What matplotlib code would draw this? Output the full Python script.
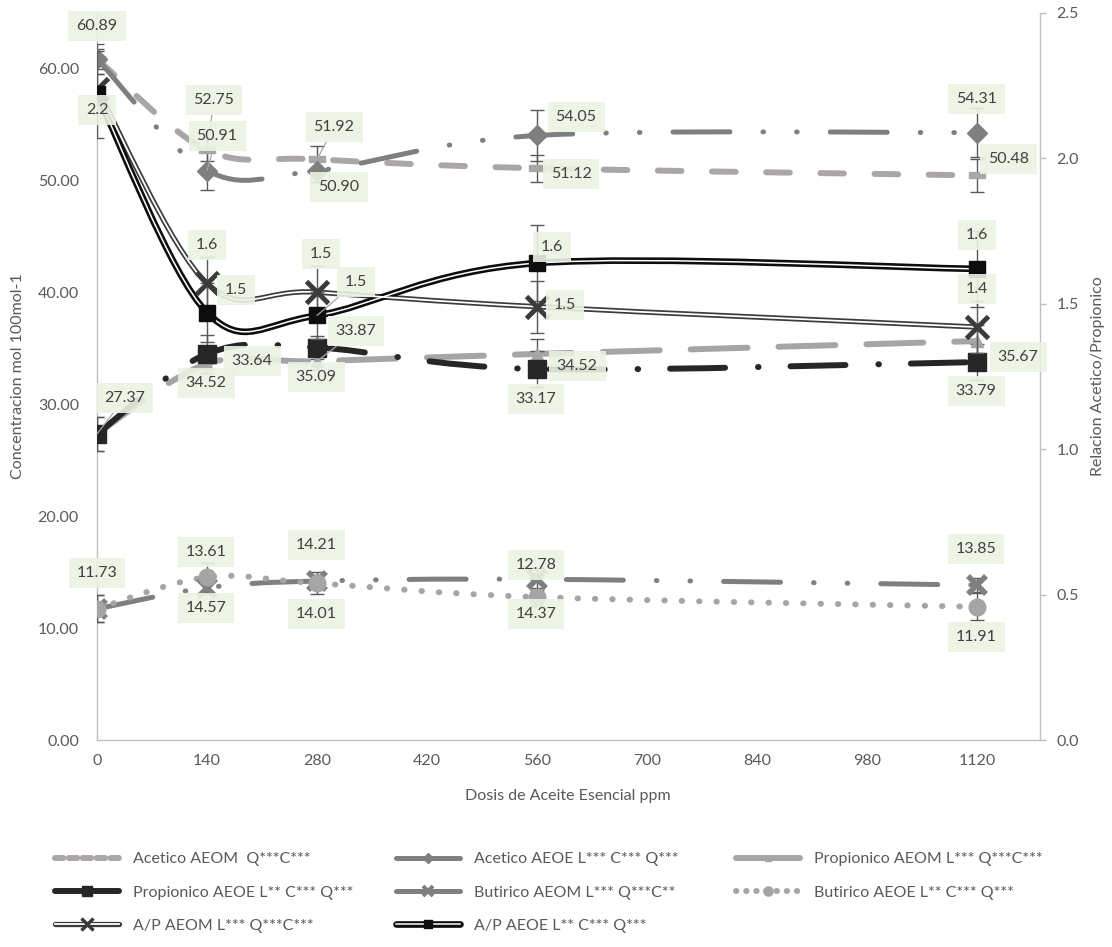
import numpy as np
import matplotlib
matplotlib.use("Agg")
import matplotlib.pyplot as plt
from matplotlib.path import Path
from matplotlib.patches import PathPatch
from matplotlib.lines import Line2D

plt.rcParams["font.family"] = ["Lato", "DejaVu Sans"]
plt.rcParams["font.size"] = 11.5
plt.rcParams["lines.scale_dashes"] = False

# dosis de aceite esencial (ppm)
dosis = [0, 140, 280, 560, 1120]

# concentraciones (mol/100 mol)
acetico_aeom = [60.89, 52.75, 51.92, 51.12, 50.48]
acetico_aeoe = [60.89, 50.91, 50.90, 54.05, 54.31]
propionico_aeom = [27.37, 33.64, 33.87, 34.52, 35.67]
propionico_aeoe = [27.37, 34.52, 35.09, 33.17, 33.79]
butirico_aeom = [11.73, 13.61, 14.21, 14.37, 13.85]
butirico_aeoe = [11.73, 14.57, 14.01, 12.78, 11.91]

# relacion acetico/propionico
ap_aeom = [2.24, 1.57, 1.54, 1.49, 1.42]
ap_aeoe = [2.22, 1.47, 1.46, 1.64, 1.62]

# desviaciones (barras de error)
err_acetico_aeom = [0.9, 1.0, 1.2, 1.2, 1.5]
err_acetico_aeoe = [1.3, 1.7, 1.0, 2.3, 2.2]
err_propionico_aeom = [1.5, 0.5, 0.8, 1.3, 1.4]
err_propionico_aeoe = [1.5, 1.7, 1.0, 1.6, 1.6]
err_butirico_aeom = [1.2, 0.6, 0.5, 1.0, 0.6]
err_butirico_aeoe = [1.2, 1.3, 1.0, 0.8, 1.2]
err_ap_aeom = [0.05, 0.09, 0.09, 0.09, 0.09]
err_ap_aeoe = [0.15, 0.10, 0.08, 0.13, 0.13]

nombres = [
    "Acetico AEOM  Q***C***",
    "Acetico AEOE L*** C*** Q***",
    "Propionico AEOM L*** Q***C***",
    "Propionico AEOE L** C*** Q***",
    "Butirico AEOM L*** Q***C**",
    "Butirico AEOE L** C*** Q***",
    "A/P AEOM L*** Q***C***",
    "A/P AEOE L** C*** Q***",
]

W, H = 1112, 947
fig = plt.figure(figsize=(W / 100, H / 100), dpi=100)
ax = fig.add_axes([97 / W, 1 - 740 / H, (1040 - 97) / W, (740 - 13) / H])
ax2 = ax.twinx()
ax.set_xlim(0, 1200)
ax.set_ylim(0, 65)
ax2.set_ylim(0, 2.5)

GRID = "#bfbfbf"
TXT = "#595959"
for s in ("top", "right"):
    ax.spines[s].set_visible(False)
for s in ("top", "left", "bottom"):
    ax2.spines[s].set_visible(False)
for sp in (ax.spines["left"], ax.spines["bottom"], ax2.spines["right"]):
    sp.set_color(GRID)
    sp.set_linewidth(1.0)

ax.set_xticks(range(0, 1121, 140))
ax.set_yticks(range(0, 61, 10))
ax.set_yticklabels([f"{v:.2f}" for v in range(0, 61, 10)])
ax2.set_yticks(np.arange(0, 2.51, 0.5))
ax2.set_yticklabels([f"{v:.1f}" for v in np.arange(0, 2.51, 0.5)])
ax.tick_params(axis="x", length=0, pad=10, labelcolor=TXT)
ax.tick_params(axis="y", length=0, pad=13, labelcolor=TXT)
ax2.tick_params(axis="y", length=4, width=1, color=GRID, pad=8, labelcolor=TXT)


def smooth_path(axis, ys):
    # curva suavizada tipo Excel (Bezier con tangentes de Catmull-Rom)
    pts = axis.transData.transform(np.column_stack([dosis, ys]))
    n = len(pts)
    verts, codes = [pts[0]], [Path.MOVETO]
    for i in range(n - 1):
        p0, p1 = pts[max(i - 1, 0)], pts[i]
        p2, p3 = pts[i + 1], pts[min(i + 2, n - 1)]
        verts += [p1 + (p2 - p0) / 6, p2 - (p3 - p1) / 6, p2]
        codes += [Path.CURVE4] * 3
    return Path(axis.transData.inverted().transform(np.array(verts)), codes)


def curve(axis, ys, color, lw, dashes=None, z=2):
    ls = (0, dashes) if dashes else "-"
    axis.add_patch(PathPatch(smooth_path(axis, ys), fill=False, edgecolor=color,
                             lw=lw, linestyle=ls, capstyle="round",
                             joinstyle="round", zorder=z))


def small(mk, f=0.55):
    # marcador reducido para la leyenda
    out = dict(mk)
    out["ms"] = mk["ms"] * f
    if "mew" in mk:
        out["mew"] = mk["mew"] * 0.7
    return out


DASH = (17, 22)
LONGDASH = (41, 22.3)
LDASHDOT = (39.6, 23.7, 0.4, 23)
LDASHDOTDOT = (41, 23.8, 0.4, 23.8, 0.4, 23.8)
DOTS = (0.3, 12.2)
dash_marker = [(-1, -0.35), (1, -0.35), (1, 0.35), (-1, 0.35), (-1, -0.35)]

# estilo de cada serie: eje, valores, error, color, grosor, guiones, marcador
series = [
    (ax, acetico_aeom, err_acetico_aeom, "#aaa6a6", 4.3, DASH,
     dict(marker=dash_marker, ms=11, mfc="#aaa6a6", mec="#aaa6a6")),
    (ax, acetico_aeoe, err_acetico_aeoe, "#7f7f7f", 3.6, LDASHDOTDOT,
     dict(marker="D", ms=10, mfc="#7f7f7f", mec="#7f7f7f")),
    (ax, propionico_aeom, err_propionico_aeom, "#a5a5a5", 4.3, LONGDASH,
     dict(marker="^", ms=9, mfc="#a5a5a5", mec="#a5a5a5")),
    (ax, propionico_aeoe, err_propionico_aeoe, "#262626", 4.3, LDASHDOT,
     dict(marker="s", ms=13, mfc="#262626", mec="#262626")),
    (ax, butirico_aeom, err_butirico_aeom, "#7f7f7f", 3.6, LDASHDOTDOT,
     dict(marker="x", ms=13, mew=4, mec="#7f7f7f")),
    (ax, butirico_aeoe, err_butirico_aeoe, "#a5a5a5", 4.3, DOTS,
     dict(marker="o", ms=12, mfc="#a5a5a5", mec="#a5a5a5")),
]

# guiones mas cortos en la leyenda para que se vea el patron
leg_dashes = [(6, 4), None, None, None, None, (0.3, 7)]

handles = []
for i, (axis, ys, err, color, lw, dashes, mk) in enumerate(series):
    curve(axis, ys, color, lw, dashes, z=2 + i * 0.1)
    axis.errorbar(dosis, ys, yerr=err, fmt="none", ecolor="#595959",
                  elinewidth=1, capsize=5, capthick=1, zorder=2.5 + i * 0.1)
    axis.plot(dosis, ys, linestyle="none", zorder=3 + i * 0.1, **mk)
    ld = leg_dashes[i]
    handles.append(Line2D([], [], color=color, lw=lw,
                          linestyle=(0, ld) if ld else "-",
                          dash_capstyle="round", solid_capstyle="round",
                          **small(mk)))

# series A/P sobre el eje secundario: linea doble
doble = [
    (ap_aeom, err_ap_aeom, "#3b3b3b", 3.8, 1.3,
     dict(marker="x", ms=16, mew=3.5, mec="#3b3b3b")),
    (ap_aeoe, err_ap_aeoe, "#0d0d0d", 4.8, 1.1,
     dict(marker="s", ms=12, mfc="#0d0d0d", mec="#0d0d0d")),
]
for ys, err, color, lw, inner, mk in doble:
    curve(ax2, ys, color, lw, z=2)
    curve(ax2, ys, "white", inner, z=2.05)
    ax2.errorbar(dosis, ys, yerr=err, fmt="none", ecolor="#595959",
                 elinewidth=1, capsize=5, capthick=1, zorder=2.5)
    ax2.plot(dosis, ys, linestyle="none", zorder=3, **mk)
    handles.append((Line2D([], [], color=color, lw=lw, solid_capstyle="round"),
                    Line2D([], [], color="white", lw=inner),
                    Line2D([], [], linestyle="none", **small(mk, 0.5))))

# etiquetas de datos: desplazamiento (dx, dy) en pixeles, dy hacia abajo
etiquetas = [
    (ax, acetico_aeom, "{:.2f}", [(0, -33, 0), (7, -50, 1), (17, -32, 1), (34, 6, 0), (31, -16, 0)]),
    (ax, acetico_aeoe, "{:.2f}", [None, (10, -35, 1), (22, 16, 0), (39, -18, 0), (-1, -34, 0)]),
    (ax, propionico_aeom, "{:.2f}", [(28, -36, 1), (45, -3, 0), (39, -30, 1), (40, 12, 0), (41, 16, 0)]),
    (ax, propionico_aeoe, "{:.2f}", [None, (-1, 29, 0), (-1, 29, 0), (-1, 30, 0), (-1, 29, 0)]),
    (ax, butirico_aeom, "{:.2f}", [(0, -36, 0), (-1, -36, 0), (-1, -36, 0), (-1, 35, 0), (-1, -36, 0)]),
    (ax, butirico_aeoe, "{:.2f}", [None, (-1, 31, 0), (-1, 31, 0), (-1, -32, 0), (-1, 30, 0)]),
    (ax2, ap_aeom, "{:.1f}", [None, (0, -38, 0), (4, -38, 0), (28, -2, 0), (0, -38, 0)]),
    (ax2, ap_aeoe, "{:.1f}", [(0, 16, 0), (29, -23, 0), (39, -33, 1), (15, -16, 0), (0, -34, 0)]),
]
for axis, ys, fmt, offs in etiquetas:
    for x, y, off in zip(dosis, ys, offs):
        if off is None:
            continue
        dx, dy, leader = off
        ax2.annotate(fmt.format(y), xy=(x, y), xycoords=axis.transData,
                     xytext=(dx, -dy), textcoords="offset pixels",
                     ha="center", va="center", color="#404040", zorder=6,
                     bbox=dict(boxstyle="square,pad=0.5", fc="#ebf2e3",
                               ec="none", alpha=0.9),
                     arrowprops=dict(arrowstyle="-", color="#a6a6a6", lw=0.9,
                                     shrinkA=0, shrinkB=0) if leader else None)

fig.text(18 / W, 1 - 376 / H, "Concentracion mol 100mol-1", rotation=90,
         ha="center", va="center", color=TXT)
fig.text(1098 / W, 1 - 376 / H, "Relacion Acetico/Propionico", rotation=90,
         ha="center", va="center", color=TXT)
fig.text(568 / W, 1 - 796 / H, "Dosis de Aceite Esencial ppm",
         ha="center", va="center", color=TXT)

# leyenda en tres columnas de ancho fijo
cols = [[0, 3, 6], [1, 4, 7], [2, 5]]
for xc, idx in zip([55, 396, 736], cols):
    fig.legend([handles[k] for k in idx], [nombres[k] for k in idx],
               loc="upper left", bbox_to_anchor=(xc / W, 1 - 852 / H),
               frameon=False, borderpad=0, borderaxespad=0,
               handlelength=4.0, handletextpad=0.9, labelspacing=1.2,
               labelcolor=TXT)

fig.savefig("out.png", dpi=100)
